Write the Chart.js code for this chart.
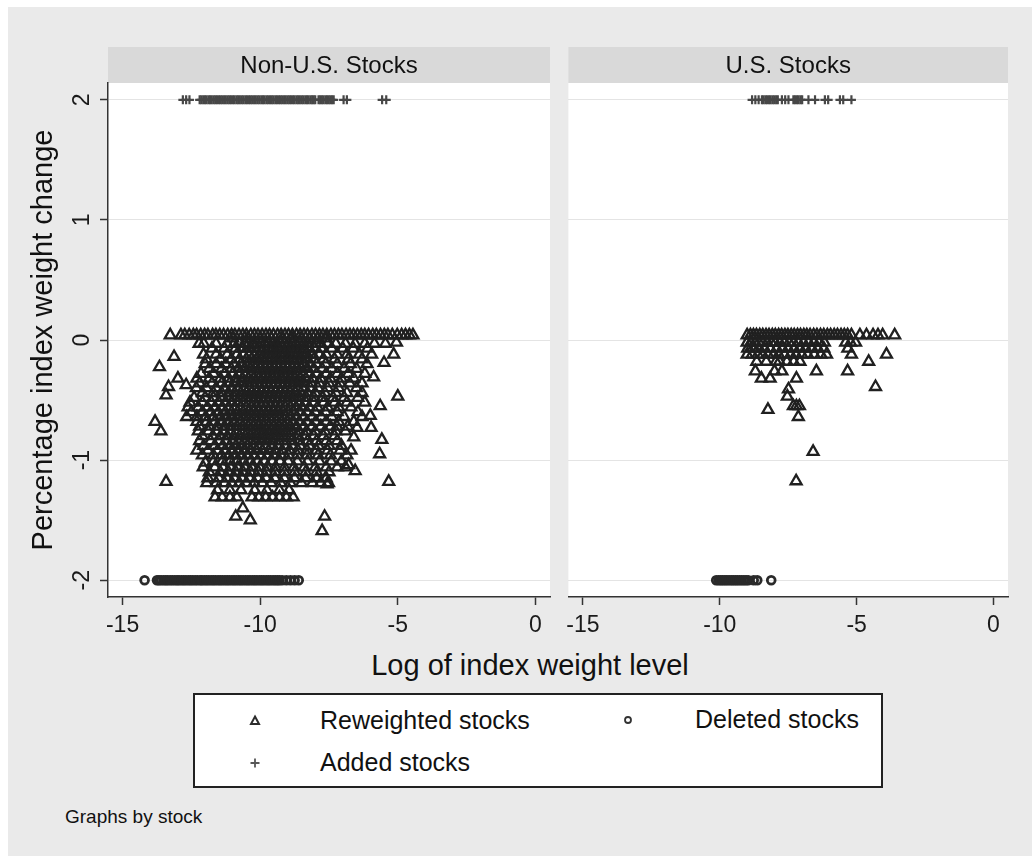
<!DOCTYPE html>
<html>
<head>
<meta charset="utf-8">
<title>Index weight change by stock</title>
<script src="https://cdn.jsdelivr.net/npm/chart.js@4/dist/chart.umd.min.js"></script>
<style>
  body { margin: 0; width: 1032px; height: 856px; background: #fff; overflow: hidden;
         font-family: "Liberation Sans", Arial, sans-serif; color: #111; }
  #frame { position: absolute; left: 8px; top: 7px; width: 1024px; height: 849px; background: #eaeaea; }
  canvas { position: absolute; }
  #leftPanel { left: 8px; top: 47px; }
  #rightPanel { left: 559px; top: 47px; }
  #xTitle { position: absolute; left: 0; width: 1060px; top: 651px; text-align: center;
            font-size: 29px; line-height: 29px; }
  #legendBox { position: absolute; left: 193px; top: 693px; width: 690px; height: 95px;
               box-sizing: border-box; border: 2px solid #222; background: #fff; }
  .lgText { position: absolute; font-size: 25px; line-height: 25px; white-space: nowrap; }
  .lgMark { position: absolute; }
  #note { position: absolute; left: 65px; top: 807px; font-size: 19px; line-height: 19px; }
</style>
</head>
<body>
<div id="frame"></div>
<canvas id="leftPanel" width="552" height="600"></canvas>
<canvas id="rightPanel" width="462" height="600"></canvas>
<div id="xTitle"></div>
<div id="legendBox"></div>
<div id="note">Graphs by stock</div>

<script>
// ---- data ----
var panelTitles = ['Non-U.S. Stocks', 'U.S. Stocks'];
var seriesLabels = ['Reweighted stocks', 'Deleted stocks', 'Added stocks'];
var xTitle = 'Log of index weight level';
var yTitle = 'Percentage index weight change';
var xTickValues = [-15, -10, -5, 0];
var yTickValues = [-2, -1, 0, 1, 2];
var xMin = -15.53, xMax = 0.53;
var yMin = -2.14, yMax = 2.14;

var deletedLevel = -2;
var addedLevel = 2;

// Non-U.S. reweighted stocks, row by row: [y, [x, x, ...]]
var nonUsReweightedRows = [
  [0.04, [-13.27, -12.88, -12.74, -12.58, -12.43, -12.31, -12.16, -12.02, -11.9, -11.73, -11.61, -11.47, -11.33, -11.18, -11.04, -10.92, -10.77, -10.63, -10.5, -10.34, -10.21, -10.08, -9.93, -9.79, -9.66, -9.52, -9.37, -9.24, -9.1, -8.97, -8.83, -8.68, -8.55, -8.41, -8.28, -8.12, -7.99, -7.85, -7.72, -7.58, -7.43, -7.3, -7.16, -7.03, -6.88, -6.74, -6.61, -6.47, -6.33, -6.2, -6.06, -5.91, -5.78, -5.63, -5.49, -5.36, -5.2, -5.02, -4.86, -4.72, -4.58, -4.45]],
  [0.015, [-11.0, -10.45, -10.0, -9.6, -9.2, -8.85, -8.5, -8.2, -7.9, -7.6]],
  [-0.03, [-12.05, -11.6, -11.2, -10.95, -10.75, -10.58, -10.42, -10.27, -10.12, -9.98, -9.83, -9.69, -9.55, -9.4, -9.26, -9.12, -8.98, -8.84, -8.7, -8.56, -8.42, -8.28, -8.13, -7.98, -7.8, -7.55, -7.25, -6.9, -6.55, -6.2, -5.85, -5.45]],
  [-0.07, [-11.75, -11.3, -10.9, -10.62, -10.4, -10.2, -10.02, -9.85, -9.68, -9.52, -9.36, -9.2, -9.04, -8.88, -8.72, -8.56, -8.4, -8.22, -8.02, -7.78, -7.4, -7.0, -6.62, -6.1]],
  [-0.12, [-12.06, -11.6, -11.2, -10.85, -10.6, -10.4, -10.22, -10.04, -9.88, -9.72, -9.56, -9.41, -9.25, -9.1, -8.94, -8.79, -8.63, -8.47, -8.3, -8.1, -7.85, -7.6, -7.2, -6.85, -6.4, -5.95]],
  [-0.16, [-11.95, -11.45, -11.05, -10.75, -10.5, -10.3, -10.1, -9.92, -9.75, -9.6, -9.44, -9.27, -9.11, -8.96, -8.8, -8.64, -8.47, -8.28, -8.05, -7.7, -7.3, -6.8, -6.3]],
  [-0.2, [-12.0, -11.6, -11.25, -10.95, -10.7, -10.48, -10.28, -10.1, -9.92, -9.75, -9.58, -9.42, -9.26, -9.1, -8.93, -8.77, -8.6, -8.42, -8.2, -7.95, -7.62, -7.2, -6.72, -6.12]],
  [-0.24, [-11.85, -11.4, -11.05, -10.78, -10.55, -10.35, -10.16, -9.98, -9.81, -9.64, -9.48, -9.32, -9.16, -9.0, -8.83, -8.66, -8.48, -8.28, -8.05, -7.75, -7.4, -6.95, -6.5]],
  [-0.28, [-12.15, -11.7, -11.3, -11.0, -10.75, -10.52, -10.32, -10.13, -9.95, -9.78, -9.62, -9.46, -9.3, -9.14, -8.98, -8.81, -8.63, -8.44, -8.22, -7.95, -7.6, -7.2, -6.8, -6.2]],
  [-0.32, [-12.3, -11.85, -11.45, -11.15, -10.88, -10.65, -10.44, -10.25, -10.07, -9.9, -9.74, -9.58, -9.42, -9.26, -9.1, -8.93, -8.75, -8.56, -8.35, -8.1, -7.8, -7.45, -7.05, -6.6]],
  [-0.36, [-12.2, -11.75, -11.4, -11.12, -10.88, -10.66, -10.46, -10.27, -10.09, -9.92, -9.76, -9.6, -9.44, -9.28, -9.12, -8.95, -8.78, -8.6, -8.4, -8.15, -7.85, -7.5, -7.1, -6.75, -6.3]],
  [-0.4, [-12.32, -11.95, -11.6, -11.3, -11.05, -10.82, -10.6, -10.4, -10.21, -10.03, -9.86, -9.69, -9.52, -9.35, -9.18, -9.0, -8.82, -8.63, -8.42, -8.18, -7.9, -7.55, -7.15, -6.5]],
  [-0.44, [-12.1, -11.7, -11.4, -11.15, -10.92, -10.7, -10.5, -10.31, -10.13, -9.95, -9.78, -9.61, -9.44, -9.27, -9.1, -8.92, -8.73, -8.52, -8.28, -8.0, -7.65, -7.25, -6.85, -6.3]],
  [-0.48, [-12.4, -12.0, -11.7, -11.42, -11.17, -10.95, -10.74, -10.54, -10.35, -10.17, -9.99, -9.82, -9.65, -9.48, -9.31, -9.14, -8.96, -8.77, -8.56, -8.32, -8.05, -7.72, -7.35, -6.95, -6.45]],
  [-0.52, [-12.55, -12.1, -11.78, -11.5, -11.25, -11.02, -10.8, -10.6, -10.41, -10.22, -10.04, -9.87, -9.7, -9.53, -9.36, -9.18, -9.0, -8.8, -8.58, -8.33, -8.05, -7.7, -7.3, -6.85, -6.2]],
  [-0.56, [-12.62, -12.25, -11.92, -11.64, -11.38, -11.15, -10.93, -10.72, -10.52, -10.33, -10.15, -9.97, -9.8, -9.62, -9.45, -9.27, -9.09, -8.9, -8.7, -8.48, -8.22, -7.92, -7.55, -7.15, -6.7]],
  [-0.6, [-12.5, -12.1, -11.8, -11.52, -11.27, -11.04, -10.82, -10.62, -10.42, -10.23, -10.05, -9.87, -9.7, -9.52, -9.34, -9.16, -8.97, -8.77, -8.55, -8.3, -8.0, -7.62, -7.2, -6.45]],
  [-0.64, [-12.67, -12.3, -11.98, -11.7, -11.45, -11.22, -11.0, -10.79, -10.59, -10.4, -10.21, -10.03, -9.85, -9.67, -9.49, -9.3, -9.1, -8.9, -8.68, -8.42, -8.12, -7.78, -7.4, -6.95, -6.3]],
  [-0.68, [-12.3, -11.95, -11.65, -11.4, -11.16, -10.94, -10.73, -10.53, -10.34, -10.15, -9.97, -9.79, -9.6, -9.42, -9.23, -9.03, -8.82, -8.58, -8.3, -7.98, -7.6, -7.15, -6.6]],
  [-0.72, [-12.2, -11.85, -11.56, -11.3, -11.07, -10.85, -10.64, -10.44, -10.25, -10.06, -9.87, -9.68, -9.49, -9.3, -9.1, -8.9, -8.68, -8.42, -8.12, -7.8, -7.45, -7.21, -6.82]],
  [-0.76, [-12.25, -11.88, -11.58, -11.32, -11.08, -10.86, -10.65, -10.45, -10.26, -10.07, -9.88, -9.68, -9.48, -9.28, -9.07, -8.85, -8.6, -8.32, -8.0, -7.65, -7.25, -6.9]],
  [-0.8, [-12.1, -11.72, -11.44, -11.19, -10.96, -10.74, -10.53, -10.33, -10.13, -9.93, -9.73, -9.53, -9.32, -9.1, -8.87, -8.62, -8.35, -8.05, -7.7, -7.3]],
  [-0.84, [-12.2, -11.8, -11.5, -11.24, -11.0, -10.78, -10.57, -10.37, -10.17, -9.97, -9.76, -9.55, -9.33, -9.1, -8.85, -8.58, -8.28, -7.95, -7.6, -7.2]],
  [-0.88, [-12.05, -11.65, -11.36, -11.1, -10.87, -10.65, -10.44, -10.23, -10.02, -9.8, -9.58, -9.35, -9.1, -8.84, -8.55, -8.22, -7.88, -7.5, -7.05]],
  [-0.92, [-12.3, -11.9, -11.55, -11.28, -11.04, -10.81, -10.59, -10.37, -10.15, -9.92, -9.69, -9.45, -9.2, -8.93, -8.63, -8.3, -7.95, -7.55, -7.1, -6.7]],
  [-0.96, [-12.1, -11.7, -11.4, -11.14, -10.9, -10.67, -10.44, -10.21, -9.98, -9.74, -9.5, -9.24, -8.96, -8.65, -8.3, -7.9, -7.45, -6.85]],
  [-1.01, [-11.7, -11.38, -11.1, -10.85, -10.6, -10.35, -10.1, -9.84, -9.56, -9.28, -8.98, -8.65, -8.28, -7.85, -7.42, -7.05]],
  [-1.06, [-12.07, -11.65, -11.35, -11.08, -10.82, -10.56, -10.3, -10.02, -9.74, -9.44, -9.12, -8.78, -8.4, -8.0, -7.6, -7.2, -6.9]],
  [-1.1, [-11.85, -11.45, -11.15, -10.88, -10.62, -10.35, -10.06, -9.76, -9.45, -9.12, -8.75, -8.35, -7.95, -7.5]],
  [-1.15, [-11.9, -11.5, -11.2, -10.93, -10.66, -10.38, -10.08, -9.78, -9.46, -9.12, -8.75, -8.35, -7.95, -7.6]],
  [-1.19, [-11.94, -11.6, -11.3, -11.03, -10.76, -10.5, -10.22, -9.92, -9.6, -9.25, -8.9, -8.5, -8.1, -7.8, -7.52]],
  [-1.25, [-11.55, -11.1, -10.7, -10.2, -9.75, -9.3, -8.95]],
  [-1.31, [-11.64, -11.38, -11.1, -10.85, -10.3, -10.05, -9.8, -9.55, -9.3, -9.05, -8.8]]
];
// Non-U.S. reweighted stocks standing apart from the cloud: [x, y]
var nonUsReweightedSingles = [
  [-13.66, -0.225], [-13.13, -0.14], [-13.33, -0.39], [-13.42, -0.46], [-12.99, -0.32], [-12.69, -0.375],
  [-13.82, -0.68], [-13.61, -0.76], [-13.42, -1.18], [-12.22, -0.03], [-11.99, -1.02],
  [-5.05, -0.02], [-5.15, -0.12], [-5.5, -0.19], [-5.88, -0.31], [-5.0, -0.47], [-5.64, -0.55],
  [-6.0, -0.63], [-5.97, -0.73], [-6.48, -0.73], [-6.6, -0.81], [-5.58, -0.83], [-5.66, -0.95],
  [-6.79, -1.04], [-6.55, -1.09], [-5.33, -1.18], [-7.57, -1.2],
  [-10.63, -1.4], [-10.89, -1.47], [-10.36, -1.5], [-7.66, -1.47], [-7.75, -1.59]
];
var nonUsDeletedX = [-14.2, -13.75, -13.68, -13.6, -13.51, -13.43, -13.36, -13.27, -13.19, -13.1, -13.02, -12.95, -12.86, -12.78, -12.7, -12.61, -12.53, -12.45, -12.36, -12.28, -12.18, -12.12, -12.03, -11.95, -11.87, -11.78, -11.7, -11.62, -11.53, -11.45, -11.37, -11.28, -11.2, -11.12, -11.03, -10.95, -10.87, -10.78, -10.7, -10.62, -10.53, -10.45, -10.37, -10.28, -10.2, -10.12, -10.03, -9.95, -9.87, -9.78, -9.7, -9.62, -9.53, -9.45, -9.37, -9.3, -9.2, -9.05, -8.9, -8.75, -8.6];
var nonUsAddedX = [-12.81, -12.69, -12.57, -12.2, -12.14, -12.07, -12.01, -11.95, -11.88, -11.82, -11.76, -11.69, -11.63, -11.57, -11.5, -11.44, -11.38, -11.31, -11.25, -11.18, -11.12, -11.06, -10.99, -10.93, -10.86, -10.8, -10.74, -10.67, -10.61, -10.54, -10.48, -10.41, -10.35, -10.29, -10.22, -10.16, -10.09, -10.03, -9.96, -9.9, -9.84, -9.77, -9.71, -9.64, -9.58, -9.52, -9.45, -9.39, -9.32, -9.26, -9.2, -9.13, -9.07, -9.0, -8.94, -8.88, -8.81, -8.75, -8.68, -8.62, -8.56, -8.49, -8.43, -8.36, -8.3, -8.24, -8.17, -8.11, -8.06, -8.0, -7.88, -7.82, -7.76, -7.7, -7.63, -7.57, -7.51, -7.45, -7.39, -7.33, -6.97, -6.85, -5.57, -5.42];

// U.S. reweighted stocks
var usReweightedRows = [
  [0.04, [-9.0, -8.88, -8.77, -8.66, -8.54, -8.43, -8.31, -8.2, -8.08, -7.97, -7.85, -7.74, -7.62, -7.51, -7.39, -7.28, -7.16, -7.05, -6.93, -6.82, -6.7, -6.57, -6.45, -6.32, -6.2, -6.07, -5.95, -5.82, -5.7, -5.57, -5.45, -5.33, -5.19, -4.88, -4.64, -4.4, -4.22, -4.05, -3.61]],
  [-0.02, [-9.0, -8.86, -8.71, -8.57, -8.42, -8.27, -8.12, -7.97, -7.81, -7.64, -7.47, -7.3, -7.12, -6.94, -6.76, -6.57, -6.38, -6.18, -5.4, -5.22, -5.04]],
  [-0.07, [-8.98, -8.8, -8.58, -8.38, -8.16, -7.92, -7.7, -7.5, -7.28, -7.06, -6.85, -6.62, -6.42, -6.2, -5.32]],
  [-0.12, [-9.0, -8.82, -8.61, -8.43, -8.24, -8.03, -7.85, -7.63, -7.41, -7.22, -7.0, -6.79, -6.55, -6.3, -6.1, -5.19, -3.91]],
  [-0.18, [-8.65, -8.3, -7.95, -7.82, -7.55, -7.3, -7.07, -4.56]],
  [-0.26, [-8.7, -8.0, -7.73, -6.47, -5.33]],
  [-0.32, [-8.48, -8.16, -7.2]]
];
var usReweightedSingles = [
  [-7.49, -0.41], [-7.53, -0.47], [-4.31, -0.39], [-8.24, -0.58], [-7.31, -0.55], [-7.2, -0.55],
  [-7.09, -0.55], [-7.13, -0.64], [-6.59, -0.93], [-7.21, -1.175]
];
var usDeletedX = [-10.13, -10.04, -9.96, -9.89, -9.81, -9.74, -9.66, -9.58, -9.51, -9.43, -9.36, -9.28, -9.2, -9.12, -9.04, -8.96, -8.76, -8.63, -8.12];
var usAddedX = [-8.82, -8.7, -8.58, -8.46, -8.4, -8.33, -8.27, -8.2, -8.14, -8.07, -8.01, -7.94, -7.88, -7.73, -7.61, -7.49, -7.31, -7.25, -7.18, -7.12, -7.05, -6.99, -6.76, -6.52, -6.16, -6.04, -5.61, -5.49, -5.19];

// ---- helpers ----
var FONT = '"Liberation Sans", Arial, sans-serif';
var INK = '#1a1a1a';
Chart.defaults.font.family = FONT;
Chart.defaults.color = INK;

function rowsToPoints(rows) {
  var pts = [];
  rows.forEach(function(r) {
    r[1].forEach(function(x) { pts.push({x: x, y: r[0]}); });
  });
  return pts;
}
function pairsToPoints(list) {
  return list.map(function(p) { return {x: p[0], y: p[1]}; });
}
function levelPoints(xs, y) {
  return xs.map(function(x) { return {x: x, y: y}; });
}

function buildDatasets(rows, singles, deletedX, addedX) {
  return [
    {
      label: seriesLabels[0],
      data: rowsToPoints(rows).concat(pairsToPoints(singles)),
      pointStyle: 'triangle', pointRadius: 6.3, pointBorderWidth: 2.3,
      pointBorderColor: '#202020', pointBackgroundColor: 'rgba(0,0,0,0)'
    },
    {
      label: seriesLabels[1],
      data: levelPoints(deletedX, deletedLevel),
      pointStyle: 'circle', pointRadius: 3.9, pointBorderWidth: 2.8,
      pointBorderColor: '#2a2a2a', pointBackgroundColor: 'rgba(0,0,0,0)'
    },
    {
      label: seriesLabels[2],
      data: levelPoints(addedX, addedLevel),
      pointStyle: 'cross', pointRadius: 4.5, pointBorderWidth: 2.2,
      pointBorderColor: '#474747', pointBackgroundColor: 'rgba(0,0,0,0)'
    }
  ];
}

// white plot region plus the grey title strip above it
var stripPlugin = {
  id: 'strip',
  beforeDraw: function(chart, args, opts) {
    var ctx = chart.ctx, a = chart.chartArea;
    ctx.save();
    ctx.fillStyle = '#ffffff';
    ctx.fillRect(a.left, a.top, a.right - a.left, a.bottom - a.top);
    ctx.fillStyle = '#d9d9d9';
    ctx.fillRect(a.left, a.top - 36, a.right - a.left, 36);
    ctx.fillStyle = '#111';
    ctx.font = '24px ' + FONT;
    ctx.textAlign = 'center';
    ctx.textBaseline = 'middle';
    ctx.fillText(opts.text, (a.left + a.right) / 2, a.top - 17);
    ctx.restore();
  }
};

// Stata style y labels, turned on their side
var yLabelPlugin = {
  id: 'yLabels',
  afterDraw: function(chart, args, opts) {
    if (!opts.show) return;
    var ctx = chart.ctx, a = chart.chartArea, sc = chart.scales.y;
    ctx.save();
    ctx.fillStyle = INK;
    ctx.font = '23px ' + FONT;
    ctx.textAlign = 'center';
    ctx.textBaseline = 'middle';
    yTickValues.forEach(function(v) {
      ctx.save();
      ctx.translate(a.left - 25, sc.getPixelForValue(v));
      ctx.rotate(-Math.PI / 2);
      ctx.fillText(String(v), 0, 0);
      ctx.restore();
    });
    ctx.restore();
  }
};

function makePanel(canvasId, title, datasets, withYAxis) {
  return new Chart(document.getElementById(canvasId), {
    type: 'scatter',
    data: { datasets: datasets },
    options: {
      responsive: false,
      animation: false,
      devicePixelRatio: 1,
      events: [],
      layout: { padding: { top: 36, right: withYAxis ? 10 : 13, left: 0, bottom: 0 } },
      plugins: {
        legend: { display: false },
        tooltip: { enabled: false },
        strip: { text: title },
        yLabels: { show: withYAxis }
      },
      scales: {
        x: {
          type: 'linear', min: xMin, max: xMax,
          afterBuildTicks: function(s) { s.ticks = xTickValues.map(function(v) { return {value: v}; }); },
          afterFit: function(s) { s.height = 50; },
          grid: { drawOnChartArea: false, drawTicks: true, tickLength: 8, tickColor: '#333', tickWidth: 1.5 },
          border: { color: '#333', width: 1.5 },
          ticks: { font: { size: 23 }, color: INK, padding: 7, maxRotation: 0,
                   callback: function(v) { return String(v); } }
        },
        y: {
          type: 'linear', min: yMin, max: yMax,
          afterBuildTicks: function(s) { s.ticks = yTickValues.map(function(v) { return {value: v}; }); },
          afterFit: function(s) { s.width = withYAxis ? 100 : 8; },
          grid: { color: '#e4e4e4', lineWidth: 1, drawTicks: withYAxis, tickLength: 8, tickColor: '#333', tickWidth: 1.5 },
          border: { display: withYAxis, color: '#333', width: 1.5 },
          ticks: { display: false },
          title: { display: withYAxis, text: yTitle, color: '#111', font: { size: 29 },
                   padding: { top: 19, bottom: 0 } }
        }
      }
    },
    plugins: [stripPlugin, yLabelPlugin]
  });
}

var leftChart = makePanel('leftPanel', panelTitles[0],
  buildDatasets(nonUsReweightedRows, nonUsReweightedSingles, nonUsDeletedX, nonUsAddedX), true);
var rightChart = makePanel('rightPanel', panelTitles[1],
  buildDatasets(usReweightedRows, usReweightedSingles, usDeletedX, usAddedX), false);

document.getElementById('xTitle').textContent = xTitle;

// legend built from the chart's own datasets
var legendSpots = [
  { mx: 255, my: 721, tx: 320 },   // reweighted
  { mx: 628, my: 720, tx: 695 },   // deleted
  { mx: 255, my: 763, tx: 320 }    // added
];
var markSvg = [
  '<svg width="14" height="14"><polygon points="7,2.5 11,10 3,10" fill="none" stroke="#2c2c2c" stroke-width="2"/></svg>',
  '<svg width="14" height="14"><circle cx="7" cy="7" r="3" fill="none" stroke="#333" stroke-width="1.8"/></svg>',
  '<svg width="14" height="14"><path d="M7 2.5V11.5M2.5 7H11.5" stroke="#575757" stroke-width="1.8"/></svg>'
];
leftChart.data.datasets.forEach(function(ds, i) {
  var spot = legendSpots[i];
  var m = document.createElement('div');
  m.className = 'lgMark';
  m.style.left = (spot.mx - 7) + 'px';
  m.style.top = (spot.my - 7) + 'px';
  m.innerHTML = markSvg[i];
  document.body.appendChild(m);
  var t = document.createElement('div');
  t.className = 'lgText';
  t.style.left = spot.tx + 'px';
  t.style.top = (spot.my - 13) + 'px';
  t.textContent = ds.label;
  document.body.appendChild(t);
});
</script>
</body>
</html>
